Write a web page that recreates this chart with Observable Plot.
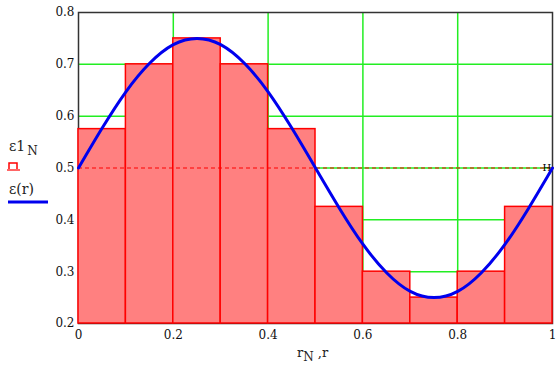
<!DOCTYPE html>
<html><head><meta charset="utf-8">
<script src="https://cdn.jsdelivr.net/npm/d3@7"></script>
<script src="https://cdn.jsdelivr.net/npm/@observablehq/plot@0.6"></script>
<style>body{margin:0;background:#fff;} #c{position:relative;width:556px;height:385px;}</style>
</head><body><div id="c"></div>
<script>
// Histogram bins (left edges, right edges) and bar heights
const binLeft  = [0, 0.1, 0.2, 0.3, 0.4, 0.5, 0.6, 0.7, 0.8, 0.9];
const binRight = [0.1, 0.2, 0.3, 0.4, 0.5, 0.6, 0.7, 0.8, 0.9, 1.0];
const barValues = [0.575, 0.7, 0.75, 0.7, 0.575, 0.425, 0.3, 0.25, 0.3, 0.425];
// Curve points
const curveX = [0, 0.05, 0.1, 0.15, 0.2, 0.25, 0.3, 0.35, 0.4, 0.45, 0.5, 0.55, 0.6, 0.65, 0.7, 0.75, 0.8, 0.85, 0.9, 0.95, 1.0];
const curveY = [0.5, 0.577, 0.647, 0.702, 0.738, 0.75, 0.738, 0.702, 0.647, 0.577, 0.5, 0.423, 0.353, 0.298, 0.262, 0.25, 0.262, 0.298, 0.353, 0.423, 0.5];
const xTicks = [0, 0.2, 0.4, 0.6, 0.8, 1];
const xTickLabels = ["0", "0.2", "0.4", "0.6", "0.8", "1"];
const yTicks = [0.2, 0.3, 0.4, 0.5, 0.6, 0.7, 0.8];
const yTickLabels = ["0.2", "0.3", "0.4", "0.5", "0.6", "0.7", "0.8"];
const gridX = [0.2, 0.4, 0.6, 0.8];
const gridY = [0.3, 0.4, 0.5, 0.6, 0.7];
const refLine = [0.5];

const bars = binLeft.map((l, i) => ({x1: l, x2: binRight[i], y: barValues[i]}));
const curve = curveX.map((x, i) => ({x, y: curveY[i]}));
const font = "DejaVu Serif";

const plot = Plot.plot({
  width: 556, height: 385,
  marginLeft: 78, marginRight: 4, marginTop: 12, marginBottom: 62,
  style: {fontFamily: font, fontSize: "12px", background: "#fff", color: "#111"},
  x: {domain: [0, 1], ticks: xTicks, tickFormat: (d, i) => xTickLabels[i], tickSize: 0, tickPadding: 7, label: null},
  y: {domain: [0.2, 0.8], ticks: yTicks, tickFormat: (d, i) => yTickLabels[i], tickSize: 0, tickPadding: 4, label: null},
  marks: [
    Plot.ruleX(gridX, {stroke: "#22ee22", strokeWidth: 1.5}),
    Plot.ruleY(gridY, {stroke: "#22ee22", strokeWidth: 1.5}),
    Plot.frame({stroke: "#333", strokeWidth: 1.5}),
    Plot.rectY(bars, {x1: "x1", x2: "x2", y1: 0.2, y2: "y", fill: "#ff8080", stroke: "#ff0000", strokeWidth: 1.5}),
    Plot.ruleY(refLine, {stroke: "#ff0000", strokeWidth: 1, strokeDasharray: "4,3"}),
    Plot.text(refLine, {x: 0.988, y: d => d, text: () => "H", fill: "#000", fontSize: 10, fontFamily: font}),
    Plot.line(curve, {x: "x", y: "y", stroke: "#0000ee", strokeWidth: 3, curve: "natural"})
  ]
});
document.getElementById("c").appendChild(plot);

const svg = d3.select(plot);
// left legend-like axis labels
const g = svg.append("g").attr("font-family", font).attr("fill", "#222").attr("text-anchor", "start");
const t1 = g.append("text").attr("x", 9).attr("y", 151).attr("font-size", 14);
t1.append("tspan").text("ε1");
t1.append("tspan").attr("dy", 4).attr("font-size", 12).attr("dx", 2).text("N");
g.append("path").attr("d", "M9,169 V163 H17 V169").attr("fill", "none").attr("stroke", "#ff0000").attr("stroke-width", 1.5);
g.append("path").attr("d", "M7,170 H20").attr("stroke", "#ff0000").attr("stroke-width", 1.2);
g.append("text").attr("x", 9).attr("y", 194).attr("font-size", 14).text("ε(r)");
g.append("line").attr("x1", 8).attr("x2", 48).attr("y1", 202).attr("y2", 202).attr("stroke", "#0000ee").attr("stroke-width", 3);
// x label
const t2 = g.append("text").attr("x", 297).attr("y", 357).attr("font-size", 13);
t2.append("tspan").text("r");
t2.append("tspan").attr("dy", 4).attr("font-size", 12).text("N");
t2.append("tspan").attr("dy", -4).text(" ,r");
</script></body></html>
